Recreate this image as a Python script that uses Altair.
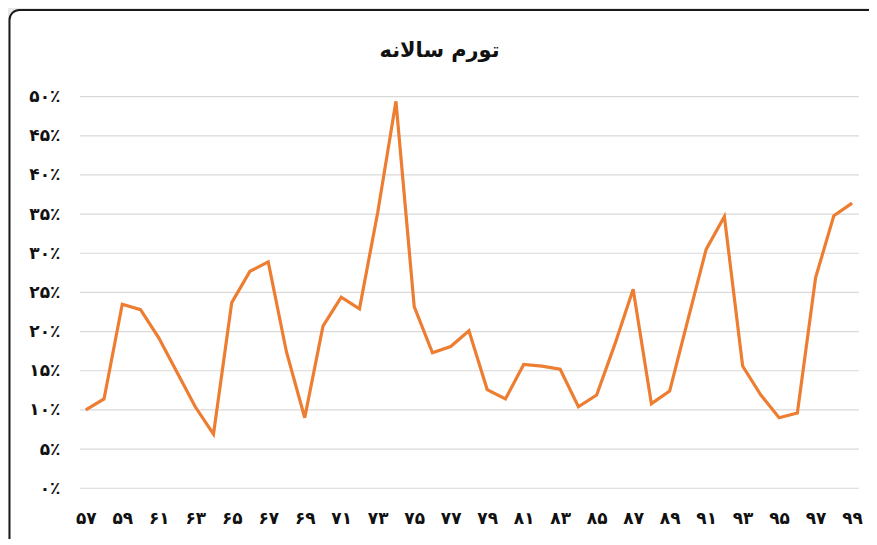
import json
import altair as alt
import pandas as pd

title_text = "تورم سالانه"

years = [57, 58, 59, 60, 61, 62, 63, 64, 65, 66, 67, 68, 69, 70, 71, 72, 73, 74, 75, 76, 77, 78,
         79, 80, 81, 82, 83, 84, 85, 86, 87, 88, 89, 90, 91, 92, 93, 94, 95, 96, 97, 98, 99]
inflation = [10.0, 11.4, 23.5, 22.8, 19.2, 14.8, 10.4, 6.9, 23.7, 27.7, 28.9, 17.4, 9.0, 20.7,
             24.4, 22.9, 35.2, 49.4, 23.2, 17.3, 18.1, 20.1, 12.6, 11.4, 15.8, 15.6, 15.2, 10.4,
             11.9, 18.4, 25.4, 10.8, 12.4, 21.5, 30.5, 34.7, 15.6, 11.9, 9.0, 9.6, 26.9, 34.8, 36.4]

x_tick_values = [57, 59, 61, 63, 65, 67, 69, 71, 73, 75, 77, 79, 81, 83, 85, 87, 89, 91, 93, 95, 97, 99]
x_tick_labels = ["۵۷", "۵۹", "۶۱", "۶۳", "۶۵", "۶۷", "۶۹", "۷۱", "۷۳", "۷۵", "۷۷",
                 "۷۹", "۸۱", "۸۳", "۸۵", "۸۷", "۸۹", "۹۱", "۹۳", "۹۵", "۹۷", "۹۹"]
y_tick_values = [0, 5, 10, 15, 20, 25, 30, 35, 40, 45, 50]
y_tick_labels = ["۰٪", "۵٪", "۱۰٪", "۱۵٪", "۲۰٪", "۲۵٪", "۳۰٪", "۳۵٪", "۴۰٪", "۴۵٪", "۵۰٪"]

df = pd.DataFrame({"year": years, "value": inflation})
grid_df = pd.DataFrame({"value": y_tick_values})
card_df = pd.DataFrame({"c": [0]})

x_label_expr = f"{json.dumps(x_tick_labels, ensure_ascii=False)}[indexof({json.dumps(x_tick_values)}, datum.value)]"
y_label_expr = f"{json.dumps(y_tick_labels, ensure_ascii=False)}[indexof({json.dumps(y_tick_values)}, datum.value)]"

W, H = 782, 393
FONT = "DejaVu Sans"

x_scale = alt.Scale(domain=[56.67, 99.38], nice=False, zero=False)
y_scale = alt.Scale(domain=[0, 50], nice=False)

x_axis = alt.Axis(values=x_tick_values, labelExpr=x_label_expr, title=None,
                  grid=False, domain=False, ticks=False, labelPadding=22,
                  labelFontSize=17, labelFontWeight="bold", labelColor="#111",
                  labelFont=FONT, zindex=2, labelOverlap=False)
y_axis = alt.Axis(values=y_tick_values, labelExpr=y_label_expr, title=None,
                  grid=False, domain=False, ticks=False, labelPadding=20,
                  labelFontSize=17, labelFontWeight="bold", labelColor="#111",
                  labelFont=FONT, zindex=2, labelOverlap=False)

card = alt.Chart(card_df).mark_rect(
    fill="white", stroke="#1a1a1a", strokeWidth=2, cornerRadius=10
).encode(
    x=alt.value(-70.5), x2=alt.value(W + 200), y=alt.value(-87), y2=alt.value(H + 200)
)

grid = alt.Chart(grid_df).mark_rule(color="#d9d9d9", strokeWidth=1.2).encode(
    y=alt.Y("value:Q", scale=y_scale, axis=y_axis)
)

line = alt.Chart(df).mark_line(color="#ED7D31", strokeWidth=3.2, strokeJoin="miter").encode(
    x=alt.X("year:Q", scale=x_scale, axis=x_axis),
    y=alt.Y("value:Q", scale=y_scale, axis=y_axis),
)

chart = alt.layer(card, grid, line).properties(
    width=W, height=H,
    title=alt.TitleParams(title_text, fontSize=21, fontWeight="bold", font=FONT,
                          color="#111", anchor="middle", offset=0, dy=52, dx=-30, zindex=3),
    autosize=alt.AutoSizeParams(type="none"),
    padding={"left": 72, "top": 88, "right": 10, "bottom": 50},
    background="#e8e8e8",
).configure_view(stroke=None)

chart.save("out.html", embed_options={"renderer": "svg", "actions": False})
